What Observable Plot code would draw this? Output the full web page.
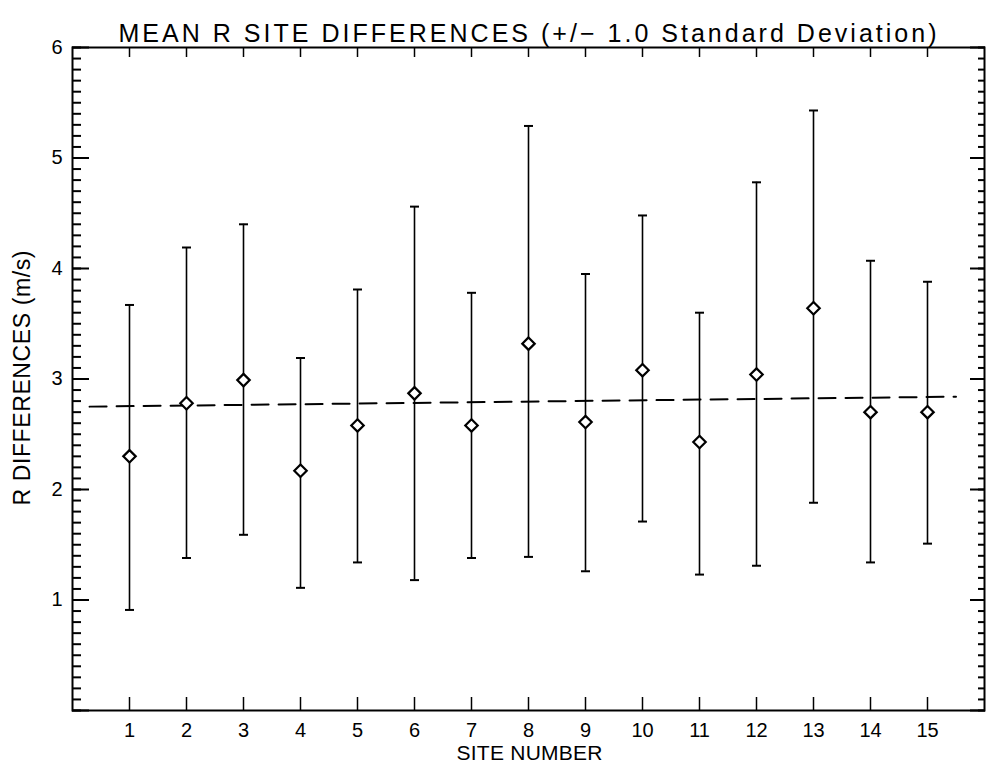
<!DOCTYPE html>
<html>
<head>
<meta charset="utf-8">
<script src="https://cdn.jsdelivr.net/npm/d3@7"></script>
<script src="https://cdn.jsdelivr.net/npm/@observablehq/plot@0.6"></script>
<style>
  html, body { margin: 0; padding: 0; background: #fff; }
  #chart svg { display: block; }
</style>
</head>
<body>
<div id="chart"></div>
<script>
// ---- data ----
const sites = [1, 2, 3, 4, 5, 6, 7, 8, 9, 10, 11, 12, 13, 14, 15];
const means = [2.30, 2.78, 2.99, 2.17, 2.58, 2.87, 2.58, 3.32, 2.61, 3.08, 2.43, 3.04, 3.64, 2.70, 2.70];
const upper = [3.67, 4.19, 4.40, 3.19, 3.81, 4.56, 3.78, 5.29, 3.95, 4.48, 3.60, 4.78, 5.43, 4.07, 3.88];
const lower = [0.91, 1.38, 1.59, 1.11, 1.34, 1.18, 1.38, 1.39, 1.26, 1.71, 1.23, 1.31, 1.88, 1.34, 1.51];
const trendX = [0.3, 15.5];
const trendY = [2.75, 2.84];
const yMajorTicks = [0, 1, 2, 3, 4, 5, 6];
const yTickLabels = [1, 2, 3, 4, 5, 6];
const yMinorTicks = d3.range(0, 61).map(i => i / 10);
const titleText = "MEAN R SITE DIFFERENCES (+/\u2212 1.0 Standard Deviation)";
const xLabel = "SITE NUMBER";
const yLabel = "R DIFFERENCES (m/s)";

const rows = sites.map((s, i) => ({site: s, mean: means[i], hi: upper[i], lo: lower[i]}));
const trend = trendX.map((x, i) => ({x, y: trendY[i]}));

const capSymbol = {
  draw(context, size) {
    const r = Math.sqrt(size / Math.PI);
    context.moveTo(-r, 0);
    context.lineTo(r, 0);
  }
};

const font = "'Liberation Sans', Arial, sans-serif";

const chart = Plot.plot({
  width: 986,
  height: 767,
  marginLeft: 72,
  marginRight: 2,
  marginTop: 47,
  marginBottom: 57,
  style: {fontFamily: font, background: "#fff", color: "#000", overflow: "visible"},
  x: {domain: [0, 16]},
  y: {domain: [0, 6]},
  marks: [
    // left axis ticks (inward)
    Plot.axisY(yMinorTicks, {anchor: "left", tickSize: -9, strokeWidth: 2, text: null, label: null}),
    Plot.axisY(yMajorTicks, {anchor: "left", tickSize: -17, strokeWidth: 2, text: null, label: null}),
    // right axis ticks (inward)
    Plot.axisY(yMinorTicks, {anchor: "right", tickSize: -7, strokeWidth: 2, text: null, label: null}),
    Plot.axisY(yMajorTicks, {anchor: "right", tickSize: -15, strokeWidth: 2, text: null, label: null}),
    // top and bottom ticks (inward)
    Plot.axisX(sites, {anchor: "top", tickSize: -9, strokeWidth: 1.5, text: null, label: null}),
    Plot.axisX(sites, {anchor: "bottom", tickSize: -13, strokeWidth: 1.5, text: null, label: null}),
    // tick labels
    Plot.text(yTickLabels, {y: d => d, text: d => d, frameAnchor: "left", textAnchor: "end", lineAnchor: "middle", dx: -10, fontSize: 20}),
    Plot.text(sites, {x: d => d, text: d => d, frameAnchor: "bottom", textAnchor: "middle", lineAnchor: "middle", dy: 20, fontSize: 20}),
    Plot.frame({stroke: "#000", strokeWidth: 2}),
    // trend line
    Plot.line(trend, {x: "x", y: "y", stroke: "#000", strokeWidth: 2, strokeDasharray: "17,10"}),
    // error bars
    Plot.ruleX(rows, {x: "site", y1: "lo", y2: "hi", stroke: "#000", strokeWidth: 1.6}),
    Plot.dot(rows, {x: "site", y: "hi", symbol: capSymbol, r: 4.5, stroke: "#000", strokeWidth: 2}),
    Plot.dot(rows, {x: "site", y: "lo", symbol: capSymbol, r: 4.5, stroke: "#000", strokeWidth: 2}),
    // means
    Plot.dot(rows, {x: "site", y: "mean", symbol: "diamond2", r: 5.6, stroke: "#000", fill: "#fff", strokeWidth: 2.2}),
    // labels
    Plot.text([titleText], {text: d => d, frameAnchor: "top", textAnchor: "middle", lineAnchor: "bottom", dx: -1, dy: -6, fontSize: 25}),
    Plot.text([xLabel], {text: d => d, frameAnchor: "bottom", textAnchor: "middle", lineAnchor: "middle", dx: 1, dy: 43, fontSize: 21}),
    Plot.text([yLabel], {text: d => d, frameAnchor: "left", textAnchor: "middle", lineAnchor: "middle", rotate: -90, dx: -50, dy: -1, fontSize: 23})
  ]
});

const lengths = {[titleText]: 818, [xLabel]: 146, [yLabel]: 255};
d3.select(chart).selectAll("text").each(function() {
  const t = this.textContent;
  if (lengths[t]) d3.select(this).attr("textLength", lengths[t]).attr("lengthAdjust", "spacing");
});

document.getElementById("chart").appendChild(chart);
</script>
</body>
</html>
